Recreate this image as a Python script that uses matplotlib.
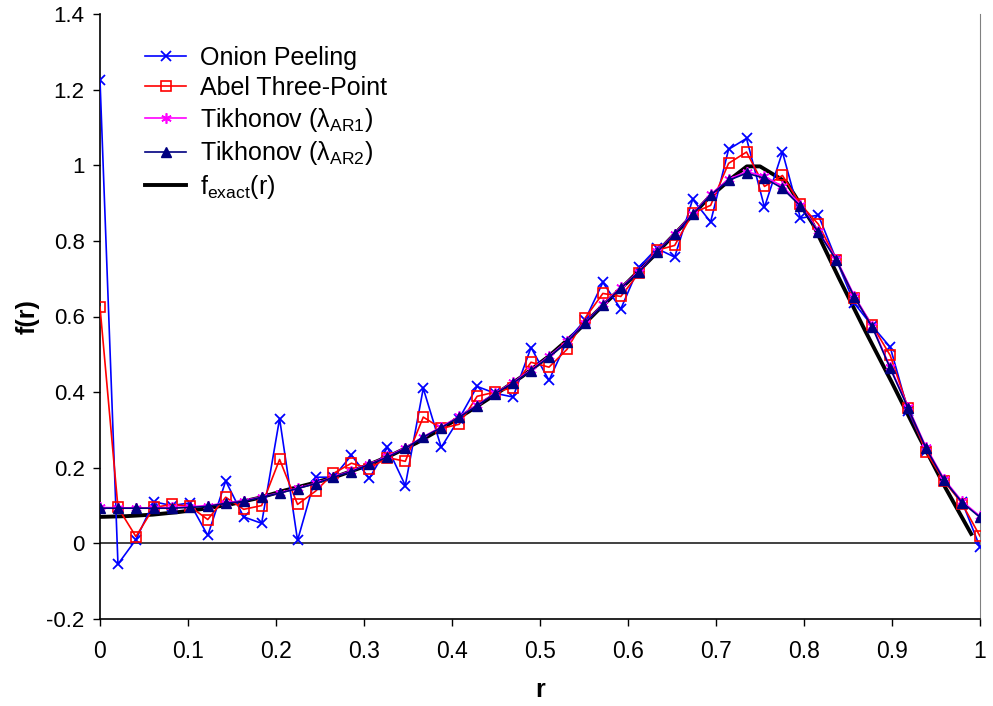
import numpy as np
import matplotlib
matplotlib.use('Agg')
import matplotlib.pyplot as plt

plt.rcParams['font.family'] = ['Liberation Sans', 'DejaVu Sans']
plt.rcParams['mathtext.fontset'] = 'custom'
plt.rcParams['mathtext.rm'] = 'Liberation Sans'

# sample radii of the reconstructions
r = np.linspace(0, 1, 50)

onion = [1.225, -0.055, 0.010, 0.110, 0.100, 0.107, 0.021, 0.165, 0.070, 0.053,
         0.330, 0.008, 0.175, 0.175, 0.233, 0.172, 0.254, 0.153, 0.410, 0.254,
         0.330, 0.415, 0.397, 0.387, 0.518, 0.431, 0.535, 0.590, 0.690, 0.620,
         0.730, 0.780, 0.757, 0.910, 0.850, 1.042, 1.071, 0.889, 1.035, 0.860,
         0.868, 0.750, 0.635, 0.575, 0.519, 0.350, 0.245, 0.165, 0.110, -0.010]

abel = [0.625, 0.095, 0.018, 0.095, 0.103, 0.098, 0.063, 0.122, 0.090, 0.100,
        0.222, 0.103, 0.138, 0.185, 0.212, 0.198, 0.227, 0.217, 0.334, 0.304,
        0.315, 0.389, 0.400, 0.412, 0.479, 0.466, 0.513, 0.595, 0.661, 0.653,
        0.714, 0.775, 0.788, 0.873, 0.894, 1.005, 1.035, 0.944, 0.973, 0.897,
        0.844, 0.750, 0.650, 0.577, 0.497, 0.357, 0.242, 0.165, 0.105, 0.019]

tik_ar1 = [0.095, 0.094, 0.094, 0.094, 0.095, 0.097, 0.100, 0.107, 0.113, 0.123,
           0.134, 0.146, 0.159, 0.176, 0.192, 0.210, 0.230, 0.253, 0.282, 0.308,
           0.336, 0.366, 0.397, 0.426, 0.459, 0.495, 0.534, 0.583, 0.632, 0.677,
           0.719, 0.772, 0.819, 0.872, 0.923, 0.963, 0.983, 0.971, 0.944, 0.896,
           0.826, 0.752, 0.655, 0.575, 0.466, 0.360, 0.254, 0.170, 0.111, 0.072]

tik_ar2 = [0.093, 0.093, 0.093, 0.093, 0.093, 0.095, 0.098, 0.106, 0.111, 0.122,
           0.133, 0.145, 0.158, 0.175, 0.190, 0.209, 0.228, 0.251, 0.281, 0.306,
           0.334, 0.364, 0.396, 0.424, 0.457, 0.493, 0.532, 0.582, 0.630, 0.675,
           0.717, 0.770, 0.817, 0.870, 0.921, 0.960, 0.979, 0.966, 0.939, 0.892,
           0.823, 0.749, 0.652, 0.572, 0.463, 0.357, 0.251, 0.167, 0.108, 0.069]

r_exact = [0.00, 0.03, 0.06, 0.09, 0.12, 0.15, 0.18, 0.21, 0.24, 0.27,
           0.30, 0.33, 0.36, 0.39, 0.42, 0.45, 0.48, 0.51, 0.54, 0.57,
           0.60, 0.63, 0.66, 0.69, 0.72, 0.735, 0.75, 0.78, 0.81, 0.84,
           0.87, 0.90, 0.93, 0.96, 0.99]
f_exact = [0.070, 0.072, 0.076, 0.083, 0.092, 0.104, 0.120, 0.140, 0.158, 0.178,
           0.203, 0.232, 0.266, 0.306, 0.350, 0.395, 0.442, 0.495, 0.556, 0.626,
           0.692, 0.762, 0.835, 0.910, 0.970, 0.997, 0.997, 0.955, 0.845, 0.700,
           0.560, 0.425, 0.285, 0.150, 0.025]

fig = plt.figure(figsize=(9.93, 7.06), dpi=100)
ax = fig.add_axes([100/993, 1 - 619/706, 880/993, 605/706])

ax.axhline(0, color='#202020', lw=1.2, zorder=1)

ax.plot(r_exact, f_exact, color='black', lw=2.8, zorder=2, label='f$_{\\mathregular{exact}}$(r)')
ax.plot(r, onion, color='#0000ff', lw=1.2, marker='x', ms=7.5, mew=1.3, zorder=3,
        label='Onion Peeling')
ax.plot(r, abel, color='#ff0000', lw=1.2, marker='s', ms=7.5, mfc='none', mew=1.2, zorder=4,
        label='Abel Three-Point')
ax.plot(r, tik_ar1, color='#ff00ff', lw=1.2, marker=(6, 2, 0), ms=7.5, mew=1.2, zorder=5,
        label='Tikhonov (λ$_{\\mathregular{AR1}}$)')
ax.plot(r, tik_ar2, color='#000080', lw=1.2, marker='^', ms=7.5, zorder=6,
        label='Tikhonov (λ$_{\\mathregular{AR2}}$)')

ax.set_xlim(0, 1)
ax.set_ylim(-0.2, 1.4)
ax.set_xticks(np.arange(0, 1.01, 0.1))
ax.set_xticklabels(['0', '0.1', '0.2', '0.3', '0.4', '0.5', '0.6', '0.7', '0.8', '0.9', '1'])
ax.set_yticks(np.arange(-0.2, 1.41, 0.2))
ax.set_yticklabels(['-0.2', '0', '0.2', '0.4', '0.6', '0.8', '1', '1.2', '1.4'])
ax.tick_params(axis='both', direction='out', length=5, width=1, color='black')
ax.tick_params(axis='x', pad=10, labelsize=16.5)
ax.tick_params(axis='y', pad=6, labelsize=16)
for lab in ax.get_xticklabels():
    lab.set_family(['Liberation Sans Narrow', 'Liberation Sans'])

ax.spines['top'].set_visible(False)
ax.spines['right'].set_color('#808080')
ax.spines['left'].set_linewidth(1.2)
ax.spines['bottom'].set_linewidth(1.2)

ax.set_xlabel('r', fontsize=18, fontweight='bold')
ax.set_ylabel('f(r)', fontsize=18, fontweight='bold')
ax.xaxis.label.set_va('center')
ax.yaxis.label.set_va('center')
ax.xaxis.set_label_coords(0.5, (619 - 690) / 605)
ax.yaxis.set_label_coords((28 - 100) / 880, 0.5)

h, l = ax.get_legend_handles_labels()
order = [1, 2, 3, 4, 0]
ax.legend([h[i] for i in order], [l[i] for i in order], loc='upper left',
          bbox_to_anchor=(0.051, 0.947), frameon=False, fontsize=18,
          handlelength=1.65, handletextpad=0.55, labelspacing=0.23,
          borderaxespad=0, borderpad=0)

fig.savefig('out.png', dpi=100)
